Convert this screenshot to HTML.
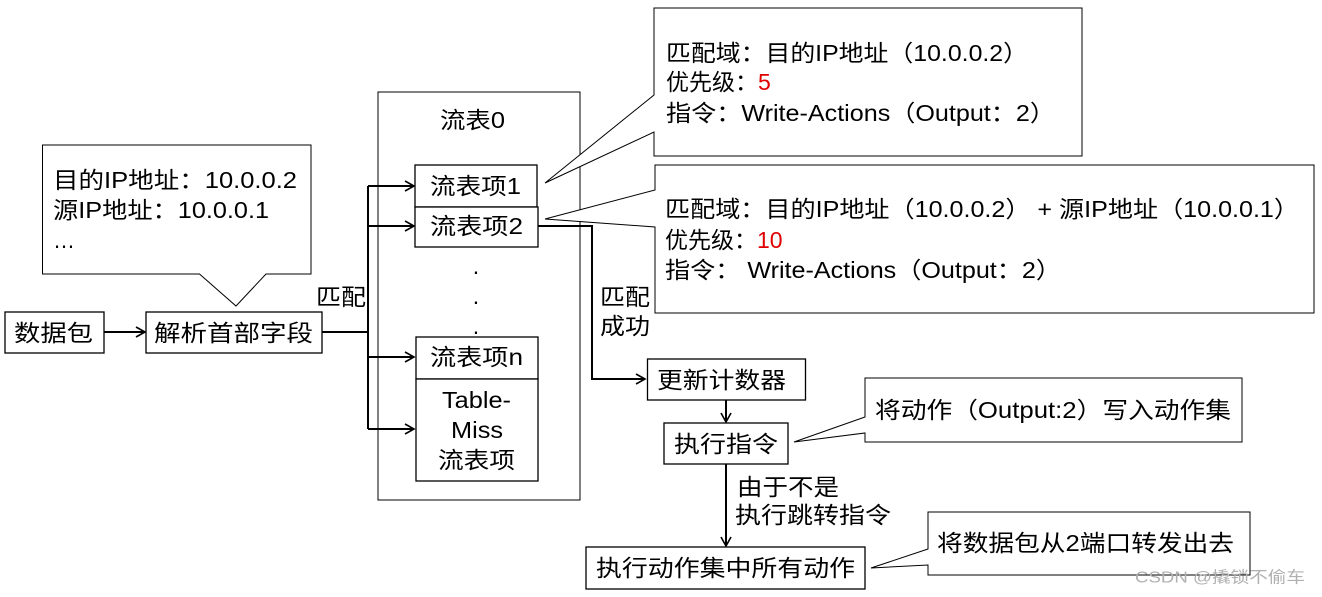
<!DOCTYPE html>
<html><head><meta charset="utf-8"><style>
html,body{margin:0;padding:0;background:#fff;}
svg{display:block;}
text{font-family:"Liberation Sans","Noto Sans CJK SC",sans-serif;font-size:23px;fill:#000;dominant-baseline:central;}
.b{fill:#fff;stroke:#000;stroke-width:1.3;}
.l{fill:none;stroke:#000;stroke-width:2;}
.t{fill:none;stroke:#000;stroke-width:1;}
</style></head><body>
<svg width="1322" height="597" viewBox="0 0 1322 597" xmlns="http://www.w3.org/2000/svg">
<defs><marker id="a" markerWidth="12" markerHeight="12" refX="10" refY="6" orient="auto" markerUnits="userSpaceOnUse"><path d="M1,1 L10,6 L1,11" fill="none" stroke="#000" stroke-width="1.6"/></marker></defs>

<!-- flow table 0 -->
<rect x="378" y="92" width="202" height="408" class="b" style="stroke-width:1"/>
<text x="440" y="120" textLength="65" lengthAdjust="spacingAndGlyphs">流表0</text>

<!-- callout 1 -->
<path d="M42.5,145 H311 V274 H266 L236,306 L199.5,274 H42.5 Z" class="b" style="stroke-width:1"/>
<text x="53" y="180" textLength="244" lengthAdjust="spacingAndGlyphs">目的IP地址：10.0.0.2</text>
<text x="53" y="210" textLength="216" lengthAdjust="spacingAndGlyphs">源IP地址：10.0.0.1</text>
<text x="53" y="240" textLength="22" lengthAdjust="spacingAndGlyphs">…</text>

<!-- left boxes -->
<rect x="5" y="312" width="99" height="41" class="b"/>
<text x="14" y="333" textLength="79" lengthAdjust="spacingAndGlyphs">数据包</text>
<rect x="146" y="312" width="176" height="41" class="b"/>
<text x="154" y="333" textLength="159" lengthAdjust="spacingAndGlyphs">解析首部字段</text>
<line x1="104" y1="332" x2="145" y2="332" class="l" marker-end="url(#a)"/>
<polyline points="322,332 368,332" class="l"/>
<line x1="368" y1="186" x2="368" y2="429" class="l"/>
<line x1="368" y1="186" x2="414" y2="186" class="l" marker-end="url(#a)"/>
<line x1="368" y1="226" x2="414" y2="226" class="l" marker-end="url(#a)"/>
<line x1="368" y1="357" x2="414" y2="357" class="l" marker-end="url(#a)"/>
<line x1="368" y1="429" x2="414" y2="429" class="l" marker-end="url(#a)"/>
<text x="316" y="297" textLength="50" lengthAdjust="spacingAndGlyphs">匹配</text>

<!-- entries -->
<rect x="415" y="165" width="122" height="42" class="b"/>
<text x="430" y="186" textLength="91" lengthAdjust="spacingAndGlyphs">流表项1</text>
<rect x="415" y="207" width="123" height="40" class="b"/>
<text x="430" y="226" textLength="93" lengthAdjust="spacingAndGlyphs">流表项2</text>
<text x="476" y="266" text-anchor="middle">.</text>
<text x="476" y="296" text-anchor="middle">.</text>
<text x="476" y="326" text-anchor="middle">.</text>
<rect x="416" y="337" width="122" height="42" class="b"/>
<text x="430" y="357" textLength="93" lengthAdjust="spacingAndGlyphs">流表项n</text>
<rect x="416" y="379" width="122" height="102" class="b"/>
<text x="442" y="400" textLength="69" lengthAdjust="spacingAndGlyphs">Table-</text>
<text x="451" y="430" textLength="52" lengthAdjust="spacingAndGlyphs">Miss</text>
<text x="438" y="460" textLength="77" lengthAdjust="spacingAndGlyphs">流表项</text>

<!-- match success path -->
<polyline points="538,226 592,226 592,379 645,379" class="l" marker-end="url(#a)"/>
<text x="600" y="297" textLength="50" lengthAdjust="spacingAndGlyphs">匹配</text>
<text x="600" y="326" textLength="50" lengthAdjust="spacingAndGlyphs">成功</text>

<!-- top callout -->
<path d="M654,8 H1082 V156 H654 V132 L545,183 L654,95 Z" class="b" style="stroke-width:1"/>
<text x="666" y="53" textLength="362" lengthAdjust="spacingAndGlyphs">匹配域：目的IP地址（10.0.0.2）</text>
<text x="666" y="82">优先级：<tspan fill="#e00000" style="fill:#e00000">5</tspan></text>
<text x="666" y="113" textLength="389" lengthAdjust="spacingAndGlyphs">指令：Write-Actions（Output：2）</text>

<!-- second callout -->
<path d="M655,165 H1314 V313 H655 V227 L545,219 L655,190 Z" class="b" style="stroke-width:1"/>
<text x="665" y="209" textLength="634" lengthAdjust="spacingAndGlyphs">匹配域：目的IP地址（10.0.0.2） + 源IP地址（10.0.0.1）</text>
<text x="665" y="240">优先级：<tspan style="fill:#e00000">10</tspan></text>
<text x="665" y="270" textLength="396" lengthAdjust="spacingAndGlyphs">指令： Write-Actions（Output：2）</text>

<!-- lower flow -->
<rect x="647.5" y="359" width="158" height="41" class="b"/>
<text x="657" y="380" textLength="129" lengthAdjust="spacingAndGlyphs">更新计数器</text>
<line x1="726" y1="400" x2="726" y2="422" class="l" marker-end="url(#a)"/>
<rect x="664" y="423" width="124" height="41" class="b"/>
<text x="674" y="444" textLength="104" lengthAdjust="spacingAndGlyphs">执行指令</text>
<line x1="726" y1="464" x2="726" y2="546" class="l" marker-end="url(#a)"/>
<text x="737" y="487" textLength="102" lengthAdjust="spacingAndGlyphs">由于不是</text>
<text x="735" y="515" textLength="156" lengthAdjust="spacingAndGlyphs">执行跳转指令</text>
<rect x="586" y="547" width="279" height="42" class="b"/>
<text x="596" y="568" textLength="259" lengthAdjust="spacingAndGlyphs">执行动作集中所有动作</text>

<path d="M865,378 H1242 V442 H865 V433 L794,442 L865,417 Z" class="b" style="stroke-width:1"/>
<text x="875" y="410" textLength="356" lengthAdjust="spacingAndGlyphs">将动作（Output:2）写入动作集</text>

<path d="M928,512 H1250 V575 H928 V565 L871,568 L928,549 Z" class="b" style="stroke-width:1"/>
<text x="937" y="543" textLength="297" lengthAdjust="spacingAndGlyphs">将数据包从2端口转发出去</text>

<text x="1135" y="578" style="font-size:16px;fill:#b0b0b0" textLength="170" lengthAdjust="spacingAndGlyphs">CSDN @撬锁不偷车</text>
</svg>
</body></html>
